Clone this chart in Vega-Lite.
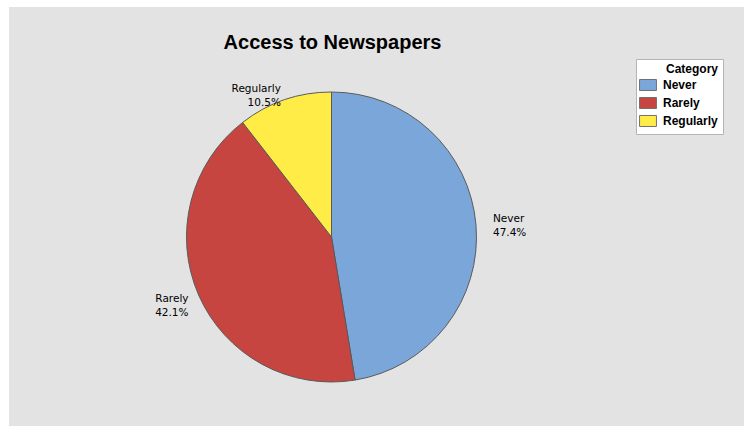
{
  "$schema": "https://vega.github.io/schema/vega-lite/v6.json",
  "width": 735,
  "height": 419,
  "autosize": {"type": "none"},
  "padding": {"left": 9, "top": 7, "right": 0, "bottom": 0},
  "background": "#ffffff",
  "config": {
    "view": {"stroke": null}
  },
  "title": {
    "text": "Access to Newspapers",
    "font": "Liberation Sans",
    "fontSize": 20,
    "fontWeight": "bold",
    "color": "#000000",
    "anchor": "middle",
    "dx": -44,
    "offset": -46
  },
  "layer": [
    {
      "data": {"values": [{"bg": 1}]},
      "mark": {"type": "rect", "color": "#e3e3e3", "x": 0, "y": 0, "x2": {"expr": "width + 12"}, "y2": {"expr": "height + 12"}},
      "encoding": {}
    },
    {
      "data": {"name": "slices", "values": [
        {"category": "Never", "percent": 47.4, "label": "Never\n47.4%"},
        {"category": "Rarely", "percent": 42.1, "label": "Rarely\n42.1%"},
        {"category": "Regularly", "percent": 10.5, "label": "Regularly\n10.5%"}
      ]},
      "encoding": {
        "theta": {"field": "percent", "type": "quantitative", "stack": true},
        "order": {"field": "category", "sort": "ascending"}
      },
      "layer": [
        {
          "mark": {
            "type": "arc",
            "outerRadius": 145,
            "stroke": "#5a5a5a",
            "strokeWidth": 1,
            "x": {"expr": "width/2 - 45"},
            "y": {"expr": "height/2 + 20.5"}
          },
          "encoding": {
            "color": {
              "field": "category",
              "type": "nominal",
              "scale": {"domain": ["Never", "Rarely", "Regularly"], "range": ["#7ba6d9", "#c64541", "#ffec47"]},
              "legend": {
                "title": "Category",
                "orient": "none",
                "legendX": 627,
                "legendY": 52,
                "fillColor": "#ffffff",
                "strokeColor": "#b4b4b4",
                "padding": 5,
                "titleFont": "Liberation Sans",
                "titleFontSize": 12,
                "titleFontWeight": "bold",
                "titleColor": "#000000",
                "titleAnchor": "end",
                "titlePadding": 2,
                "labelFont": "Liberation Sans",
                "labelFontSize": 12,
                "labelFontWeight": "bold",
                "labelColor": "#000000",
                "labelOffset": 8,
                "rowPadding": 2,
                "symbolType": "M-1.3,-0.85H1.3V0.85H-1.3Z",
                "symbolSize": 169,
                "symbolStrokeColor": "#707070",
                "symbolStrokeWidth": 1,
                "symbolOpacity": 1
              }
            }
          }
        },
        {
          "mark": {
            "type": "text",
            "radius": 162,
            "align": "left",
            "baseline": "middle",
            "dy": -5,
            "lineBreak": "\n",
            "lineHeight": 14,
            "font": "DejaVu Sans",
            "fontSize": 10.5,
            "color": "#000000",
            "x": {"expr": "width/2 - 45"},
            "y": {"expr": "height/2 + 20.5"}
          },
          "encoding": {
            "text": {"condition": {"test": "datum.category === 'Never'", "field": "label"}, "value": ""}
          }
        },
        {
          "mark": {
            "type": "text",
            "radius": 156,
            "align": "right",
            "baseline": "middle",
            "lineBreak": "\n",
            "lineHeight": 14,
            "font": "DejaVu Sans",
            "fontSize": 10.5,
            "color": "#000000",
            "x": {"expr": "width/2 - 45"},
            "y": {"expr": "height/2 + 20.5"}
          },
          "encoding": {
            "text": {"condition": {"test": "datum.category !== 'Never'", "field": "label"}, "value": ""}
          }
        }
      ]
    }
  ]
}
